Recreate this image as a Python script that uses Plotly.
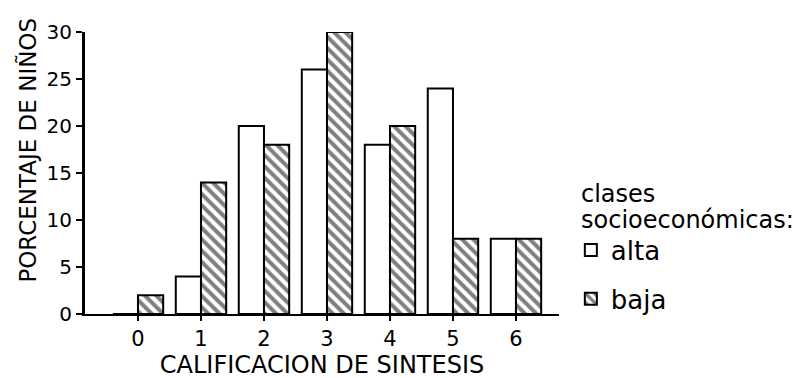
import plotly.graph_objects as go

categories = [0, 1, 2, 3, 4, 5, 6]
alta = [0, 4, 20, 26, 18, 24, 8]
baja = [2, 14, 18, 30, 20, 8, 8]
y_ticks = [0, 5, 10, 15, 20, 25, 30]
legend_title = ["clases", "socioeconómicas:"]

FONT = "DejaVu Sans, sans-serif"

fig = go.Figure()
fig.add_trace(go.Bar(
    x=categories, y=alta, name="alta", offset=-0.4, width=0.4,
    marker=dict(color="white", line=dict(color="black", width=2)),
    legendgroup="a",
))
fig.add_trace(go.Bar(
    x=categories, y=baja, name="baja", offset=0.0, width=0.4,
    marker=dict(color="white", line=dict(color="black", width=2),
                pattern=dict(shape="\\", fgcolor="black", bgcolor="white",
                             size=8, solidity=0.5)),
    legendgroup="b",
))

fig.update_layout(
    width=810, height=378,
    margin=dict(l=77, r=259, t=17, b=65),
    plot_bgcolor="white", paper_bgcolor="white",
    barmode="overlay",
    font=dict(family=FONT, color="black", size=20),
    showlegend=True,
    legend=dict(
        x=1.025, xref="paper", y=0.31, xanchor="left", yanchor="top",
        font=dict(size=26, family=FONT),
        traceorder="grouped", tracegroupgap=12,
        bgcolor="rgba(0,0,0,0)",
    ),
    xaxis=dict(
        range=[-0.841, 6.683], tickmode="array", tickvals=categories,
        ticktext=[str(c) for c in categories],
        showgrid=False, zeroline=False, showline=True, linecolor="black", linewidth=2,
        ticks="outside", ticklen=5, tickwidth=2, tickcolor="black",
        tickfont=dict(size=21),
        title=dict(text="CALIFICACION DE SINTESIS", font=dict(size=24), standoff=6),
    ),
    yaxis=dict(
        range=[0, 30], tickmode="array", tickvals=y_ticks,
        ticktext=[str(v) for v in y_ticks],
        showgrid=False, zeroline=False, showline=True, linecolor="black", linewidth=3,
        ticks="outside", ticklen=6, tickwidth=2, tickcolor="black",
        tickfont=dict(size=20),
    ),
    annotations=[
        dict(text="PORCENTAJE DE NIÑOS", textangle=-90, xref="paper", yref="paper",
             x=-0.122, y=0.58, xanchor="center", yanchor="middle", showarrow=False,
             font=dict(size=23, family=FONT)),
        dict(text=legend_title[0], xref="paper", yref="paper",
             x=1.043, y=0.425, xanchor="left", yanchor="middle", showarrow=False,
             font=dict(size=24, family=FONT)),
        dict(text=legend_title[1], xref="paper", yref="paper",
             x=1.043, y=0.335, xanchor="left", yanchor="middle", showarrow=False,
             font=dict(size=24, family=FONT)),
    ],
)

fig.write_html("out.html")
